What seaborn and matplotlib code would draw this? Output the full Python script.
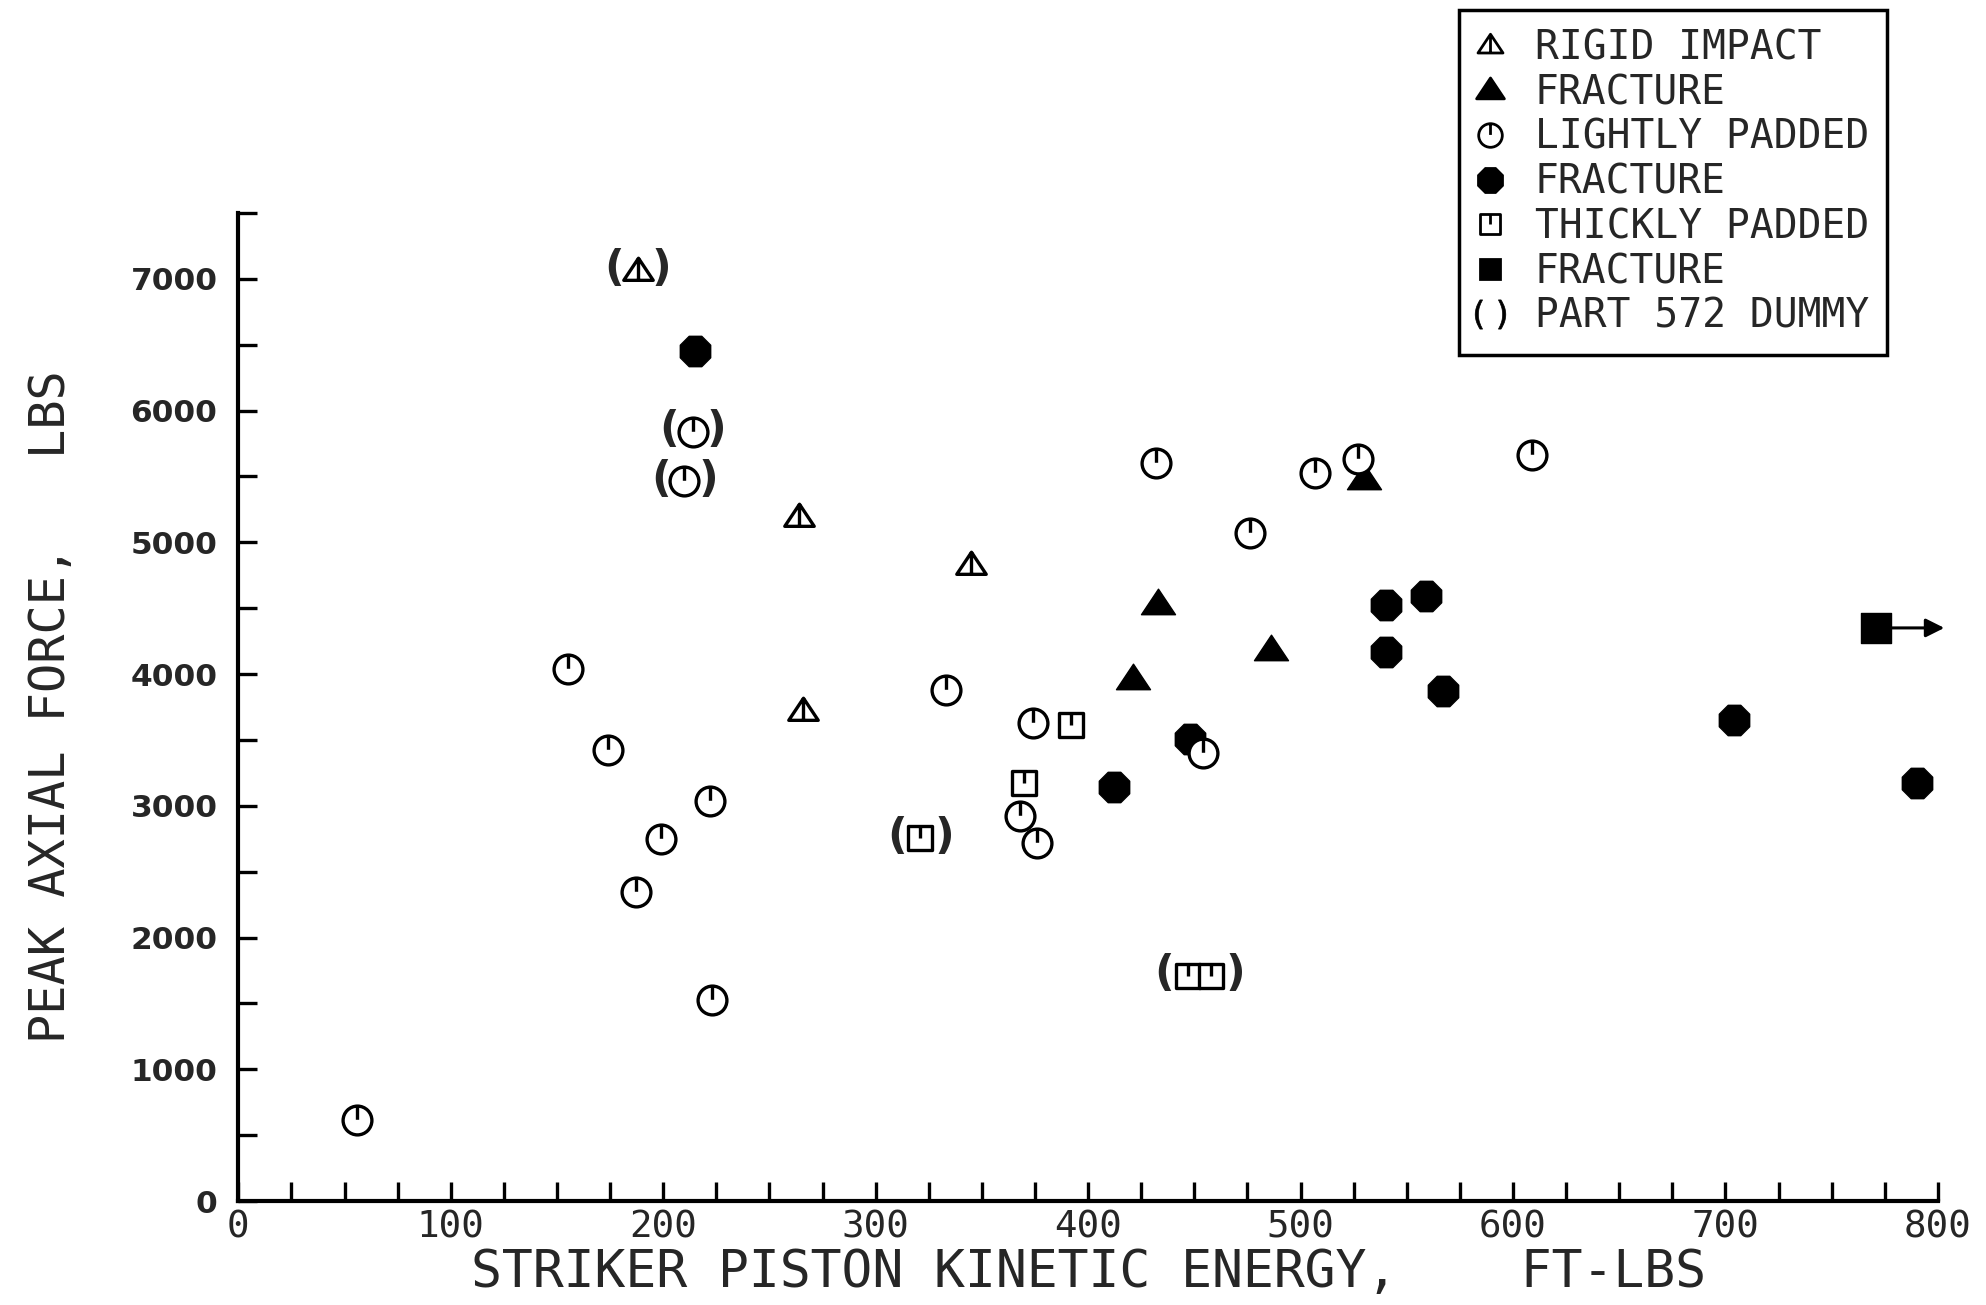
import numpy as np
import pandas as pd
import matplotlib
matplotlib.use("Agg")
import matplotlib.pyplot as plt
from matplotlib.path import Path
from matplotlib.lines import Line2D
from matplotlib.ticker import MultipleLocator
import seaborn as sns

# ---------------- data ----------------
RIGID_X = [264, 345, 266, 188]
RIGID_Y = [5190, 4830, 3720, 7060]
RIGID_DUMMY = [0, 0, 0, 1]

RIGID_FRAC_X = [433, 421, 486, 530]
RIGID_FRAC_Y = [4530, 3960, 4180, 5480]

LIGHT_X = [56, 155, 174, 187, 199, 222, 223, 333, 432, 374, 368, 376, 454,
           476, 507, 527, 609, 214, 210]
LIGHT_Y = [615, 4035, 3420, 2345, 2745, 3035, 1530, 3880, 5600, 3630, 2920,
           2720, 3400, 5070, 5525, 5630, 5660, 5840, 5465]
LIGHT_DUMMY = [0] * 17 + [2, 3]

LIGHT_FRAC_X = [215, 412, 448, 540, 559, 540, 567, 704, 790]
LIGHT_FRAC_Y = [6455, 3140, 3505, 4525, 4590, 4170, 3870, 3650, 3170]

THICK_X = [392, 370, 321, 447, 458]
THICK_Y = [3610, 3170, 2755, 1710, 1710]
THICK_DUMMY = [0, 0, 4, 5, 5]

THICK_FRAC_X = [771]
THICK_FRAC_Y = [4350]
ARROW_END_X = 803

LEGEND_LABELS = ["RIGID IMPACT", "FRACTURE", "LIGHTLY PADDED", "FRACTURE",
                 "THICKLY PADDED", "FRACTURE", "PART 572 DUMMY"]
X_TICKS = [0, 100, 200, 300, 400, 500, 600, 700, 800]
Y_TICKS = [0, 1000, 2000, 3000, 4000, 5000, 6000, 7000]
XLABEL = "STRIKER PISTON KINETIC ENERGY,    FT-LBS"
YLABEL = "PEAK AXIAL FORCE,   LBS"

# ---------------- marker shapes ----------------
def compound(*paths):
    return Path.make_compound_path(*paths)

circle_tick = compound(Path.unit_circle(),
                       Path([[0, 1], [0, 0.05]], [Path.MOVETO, Path.LINETO]))
square_path = Path([[-1, -1], [1, -1], [1, 1], [-1, 1], [-1, -1]],
                   [Path.MOVETO, Path.LINETO, Path.LINETO, Path.LINETO, Path.CLOSEPOLY])
square_tick = compound(square_path,
                       Path([[0, 1], [0, 0.0]], [Path.MOVETO, Path.LINETO]))
tri_path = Path([[-1, -0.6], [1, -0.6], [0, 0.9], [-1, -0.6]],
                [Path.MOVETO, Path.LINETO, Path.LINETO, Path.CLOSEPOLY])
tri_tick = compound(tri_path,
                    Path([[0, 0.9], [0, -0.6]], [Path.MOVETO, Path.LINETO]))

# ---------------- figure ----------------
sns.set_style("ticks")
plt.rcParams["font.family"] = ["DejaVu Sans Mono", "DejaVu Sans"]

fig = plt.figure(figsize=(19.86, 13.05), dpi=100)
ax = fig.add_axes([0.120, 0.0796, 0.8558, 0.7573])

K = "black"
# fractures first (filled)
sns.scatterplot(x=LIGHT_FRAC_X, y=LIGHT_FRAC_Y, marker="8", s=560,
                facecolor=K, edgecolor=K, linewidth=1, ax=ax, zorder=3)
sns.scatterplot(x=RIGID_FRAC_X, y=RIGID_FRAC_Y, marker=tri_path, s=600,
                facecolor=K, edgecolor=K, linewidth=1, ax=ax, zorder=3)
sns.scatterplot(x=THICK_FRAC_X, y=THICK_FRAC_Y, marker="s", s=480,
                facecolor=K, edgecolor=K, linewidth=1, ax=ax, zorder=3)
# open markers
sns.scatterplot(x=LIGHT_X, y=LIGHT_Y, marker=circle_tick, s=430,
                facecolor="white", edgecolor=K, linewidth=2.4, ax=ax, zorder=4)
sns.scatterplot(x=RIGID_X, y=RIGID_Y, marker=tri_tick, s=450,
                facecolor="white", edgecolor=K, linewidth=2.4, ax=ax, zorder=4)
sns.scatterplot(x=THICK_X, y=THICK_Y, marker=square_tick, s=300,
                facecolor="white", edgecolor=K, linewidth=2.4, ax=ax, zorder=4)

# Part 572 dummy parentheses
dummy = pd.DataFrame({
    "x": RIGID_X + LIGHT_X + THICK_X,
    "y": RIGID_Y + LIGHT_Y + THICK_Y,
    "g": RIGID_DUMMY + LIGHT_DUMMY + THICK_DUMMY,
})
for g, d in dummy[dummy.g > 0].groupby("g"):
    yv = d.y.mean()
    for xv, txt, off in [(d.x.min(), "(", -17), (d.x.max(), ")", 17)]:
        ax.annotate(txt, xy=(xv, yv), xytext=(off, 1), textcoords="offset points",
                    ha="center", va="center", fontsize=31, fontweight="bold",
                    family="DejaVu Sans", zorder=5)

# arrow off the fractured thick-padded point
ax.annotate("", xy=(ARROW_END_X, THICK_FRAC_Y[0]), xytext=(THICK_FRAC_X[0], THICK_FRAC_Y[0]),
            arrowprops=dict(arrowstyle="-|>", lw=2.2, color=K, mutation_scale=28,
                            shrinkA=0, shrinkB=0), annotation_clip=False, zorder=2)

# axes styling
ax.set_xlim(0, 800)
ax.set_ylim(0, 7500)
ax.set_xticks(X_TICKS)
ax.set_yticks(Y_TICKS)
ax.set_xticklabels([str(v) for v in X_TICKS])
ax.set_yticklabels([str(v) for v in Y_TICKS], family="DejaVu Sans", fontweight="bold")
ax.xaxis.set_minor_locator(MultipleLocator(25))
ax.yaxis.set_minor_locator(MultipleLocator(500))
ax.tick_params(which="both", direction="in", length=14, width=2.4, color=K)
ax.tick_params(axis="x", which="major", labelsize=27, pad=6)
ax.tick_params(axis="y", which="major", labelsize=22.5, pad=15)
for s in ["top", "right"]:
    ax.spines[s].set_visible(False)
for s in ["left", "bottom"]:
    ax.spines[s].set_linewidth(3)
    ax.spines[s].set_color(K)
ax.set_xlabel(XLABEL, fontsize=37, labelpad=2)
ax.set_ylabel(YLABEL, fontsize=35, labelpad=40)
ax.patch.set_alpha(0)

# legend
def h(marker, fc, ms, mew=2.0):
    return Line2D([], [], marker=marker, markersize=ms, markerfacecolor=fc,
                  markeredgecolor=K, markeredgewidth=mew, linestyle="none")

handles = [h(tri_tick, "white", 18), h(tri_path, K, 20),
           h(circle_tick, "white", 17), h("8", K, 18),
           h(square_tick, "white", 15), h("s", K, 15),
           Line2D([], [], marker=r"$(\ )$", markersize=22, color=K,
                  markeredgewidth=0.5, linestyle="none")]
leg = fig.legend(handles, LEGEND_LABELS, loc="upper right",
                 bbox_to_anchor=(0.950, 0.992), fontsize=28.5, frameon=True,
                 fancybox=False, edgecolor=K, framealpha=1,
                 handlelength=0.7, handletextpad=0.77, labelspacing=0.12,
                 borderpad=0.45, borderaxespad=0)
leg.get_frame().set_linewidth(2.5)

fig.savefig("out.png", dpi=100, facecolor="white")
